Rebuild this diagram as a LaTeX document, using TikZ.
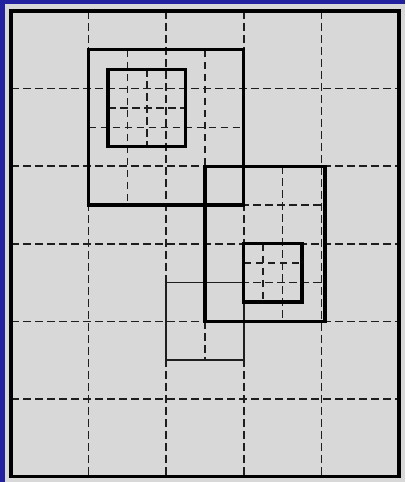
\documentclass[tikz,border=0pt]{standalone}
\definecolor{bgblue}{RGB}{34,34,160}
\definecolor{panel}{RGB}{216,216,216}
\definecolor{dashgray}{RGB}{30,30,30}
\tikzset{
  gridline/.style={draw=dashgray, line width=1.5pt, dash pattern=on 7.5pt off 4.5pt},
  thickbox/.style={draw=black, line width=3.3pt},
  thinbox/.style={draw=dashgray, line width=1.5pt},
  framebox/.style={draw=black, line width=3.3pt},
}
\begin{document}
\begin{tikzpicture}[x=1pt,y=-1pt]
\useasboundingbox (0,0) rectangle (405,482);
\fill[bgblue] (0,0) rectangle (405,482);
\fill[panel] (5,4) rectangle (405,482);
\begin{scope}[shift={(11pt,-11pt)}, x=77.6pt, y=-77.6pt]
  % main grid
  \foreach \i in {1,2,3,4} \draw[gridline] (\i,0) -- (\i,6);
  \foreach \j in {1,2,3,4,5} \draw[gridline] (0,\j) -- (5,\j);
  % square 1 subdivisions
  \draw[gridline] (1.5,0.5) -- (1.5,2.5);
  \draw[gridline] (2.5,0.5) -- (2.5,2.0);
  \draw[gridline] (1,1.5) -- (3,1.5);
  \draw[gridline] (1.75,0.75) -- (1.75,1.75);
  \draw[gridline] (1.25,1.25) -- (2.25,1.25);
  % square 2 subdivisions
  \draw[gridline] (3.5,2) -- (3.5,4);
  \draw[gridline] (2.5,2.5) -- (4,2.5);
  \draw[gridline] (2.5,3.5) -- (4,3.5);
  \draw[gridline] (3.25,3) -- (3.25,3.75);
  \draw[gridline] (3,3.25) -- (3.75,3.25);
  % thin square subdivision
  \draw[gridline] (2.5,4) -- (2.5,4.5);
  % boxes
  \draw[thinbox] (2,3.5) rectangle (3,4.5);
  \draw[thickbox] (1,0.5) rectangle (3,2.5);
  \draw[thickbox] (1.25,0.75) rectangle (2.25,1.75);
  \draw[thickbox] (2.5,2) rectangle (4.046,4);
  \draw[thickbox] (3,3) rectangle (3.75,3.75);
  % frame
  \draw[framebox] (0,0) rectangle (5,6);
\end{scope}
\end{tikzpicture}
\end{document}
